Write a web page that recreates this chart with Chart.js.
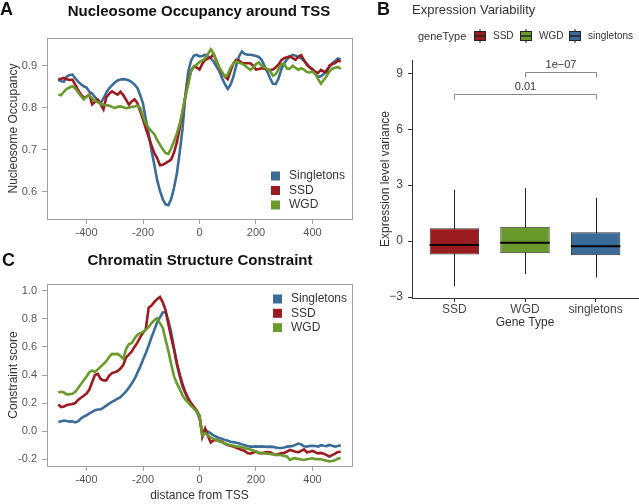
<!DOCTYPE html>
<html>
<head>
<meta charset="utf-8">
<script src="https://cdn.jsdelivr.net/npm/chart.js@4.4.0/dist/chart.umd.min.js"></script>
<style>
body { margin: 0; background: #fff; font-family: "Liberation Sans", Arial, sans-serif; }
#wrap { position: relative; width: 639px; height: 504px; overflow: hidden; }
canvas { position: absolute; }
.t { position: absolute; white-space: nowrap; color: #111; }
</style>
</head>
<body>
<div id="wrap">
  <canvas id="chartA" width="360" height="245" style="left:0;top:0"></canvas>
  <canvas id="chartB" width="279" height="331" style="left:360px;top:0"></canvas>
  <canvas id="chartC" width="360" height="254" style="left:0;top:250px"></canvas>
  <div class="t" style="left:0;top:0;font-size:18px;line-height:18px;font-weight:bold">A</div>
  <div class="t" style="left:199px;top:3px;font-size:15px;line-height:15px;font-weight:bold;transform:translateX(-50%)">Nucleosome Occupancy around TSS</div>
  <div class="t" style="left:377px;top:0;font-size:18px;line-height:18px;font-weight:bold">B</div>
  <div class="t" style="left:412px;top:3px;font-size:13px;line-height:13px;color:#333">Expression Variability</div>
  <div class="t" style="left:418px;top:30px;font-size:11px;line-height:12px;color:#333">geneType</div>
  <div class="t" style="left:2px;top:251px;font-size:18px;line-height:18px;font-weight:bold">C</div>
  <div class="t" style="left:200px;top:252px;font-size:15px;line-height:15px;font-weight:bold;transform:translateX(-50%)">Chromatin Structure Constraint</div>
</div>
<script>
// distance from TSS (bp)
const distance = [-500,-490,-480,-470,-460,-450,-440,-430,-420,-410,-400,-390,-380,-370,-360,-350,-340,-330,-320,-310,
  -300,-290,-280,-270,-260,-250,-240,-230,-220,-210,-200,-190,-180,-170,-160,-150,-140,-130,-120,-110,
  -100,-90,-80,-70,-60,-50,-40,-30,-20,-10,0,10,20,30,40,50,60,70,80,90,
  100,110,120,130,140,150,160,170,180,190,200,210,220,230,240,250,260,270,280,290,
  300,310,320,330,340,350,360,370,380,390,400,410,420,430,440,450,460,470,480,490,500];
const xTicks = [-400, -200, 0, 200, 400];

// panel A: nucleosome occupancy
const occSingletons = [.867,.863,.862,.874,.878,.879,.870,.862,.856,.851,.848,.838,.834,.825,.818,.811,.822,.836,.846,.853,
  .860,.865,.867,.868,.867,.865,.861,.855,.847,.830,.810,.772,.738,.698,.664,.628,.602,.582,.570,.568,
  .583,.610,.644,.695,.750,.830,.885,.912,.924,.926,.922,.923,.926,.922,.918,.910,.898,.887,.870,.856,
  .845,.855,.874,.900,.922,.934,.928,.926,.926,.925,.923,.921,.914,.900,.886,.870,.857,.856,.870,.892,
  .906,.915,.922,.926,.924,.920,.918,.912,.905,.897,.890,.882,.873,.875,.880,.890,.897,.906,.911,.917,.915];
const occSSD = [.868,.869,.871,.868,.866,.867,.855,.842,.832,.824,.826,.831,.808,.814,.819,.808,.796,.825,.833,.839,
  .835,.831,.838,.830,.819,.807,.815,.820,.811,.792,.772,.750,.730,.710,.692,.680,.663,.664,.668,.672,
  .677,.694,.718,.752,.790,.827,.862,.888,.898,.896,.891,.905,.914,.917,.920,.928,.912,.895,.882,.874,
  .868,.887,.905,.914,.912,.907,.906,.906,.906,.900,.891,.892,.894,.893,.891,.890,.891,.896,.903,.913,
  .918,.920,.922,.918,.914,.922,.925,.913,.902,.896,.892,.885,.883,.890,.886,.884,.900,.904,.906,.912,.910];
const occWGD = [.831,.830,.838,.845,.848,.851,.846,.837,.828,.820,.826,.830,.822,.816,.813,.809,.807,.806,.805,.802,
  .799,.802,.803,.801,.799,.800,.802,.803,.805,.800,.780,.762,.752,.744,.737,.723,.712,.701,.692,.690,
  .704,.720,.739,.762,.792,.828,.855,.886,.898,.903,.909,.912,.918,.928,.939,.928,.912,.896,.885,.874,
  .880,.895,.906,.910,.907,.905,.901,.895,.890,.895,.904,.908,.900,.896,.892,.888,.876,.880,.892,.904,
  .904,.893,.893,.900,.895,.890,.894,.891,.885,.884,.886,.880,.868,.857,.866,.875,.886,.893,.895,.897,.892];
const occTicks = [0.6, 0.7, 0.8, 0.9];

// panel C: constraint score
const conSingletons = [.066,.070,.076,.072,.068,.070,.062,.070,.090,.104,.113,.127,.138,.150,.154,.156,.168,.182,.196,.208,
  .220,.232,.242,.262,.284,.310,.340,.372,.415,.458,.508,.557,.610,.668,.720,.775,.810,.845,.848,.785,
  .700,.590,.475,.390,.315,.270,.226,.192,.165,.140,.090,-.005,.008,-.004,-.016,-.030,-.040,-.048,-.055,-.062,
  -.068,-.075,-.078,-.082,-.086,-.094,-.100,-.106,-.110,-.110,-.108,-.110,-.108,-.110,-.112,-.110,-.112,-.116,-.120,-.120,
  -.116,-.110,-.108,-.106,-.098,-.088,-.094,-.108,-.110,-.106,-.104,-.106,-.110,-.100,-.104,-.106,-.098,-.104,-.110,-.106,-.100];
const conSSD = [.190,.172,.175,.186,.190,.193,.200,.222,.238,.252,.268,.296,.350,.400,.408,.372,.362,.362,.395,.414,
  .420,.428,.446,.470,.525,.545,.567,.600,.630,.668,.700,.728,.880,.895,.920,.940,.955,.918,.860,.760,
  .665,.580,.483,.405,.335,.275,.235,.200,.174,.148,.110,-.040,.018,-.035,-.080,-.065,-.062,-.070,-.075,-.090,
  -.098,-.104,-.110,-.118,-.126,-.134,-.140,-.155,-.160,-.152,-.146,-.155,-.158,-.152,-.148,-.150,-.160,-.170,-.162,-.156,
  -.155,-.145,-.134,-.140,-.146,-.150,-.140,-.130,-.150,-.146,-.140,-.150,-.158,-.155,-.160,-.170,-.180,-.170,-.160,-.148,-.146];
const conWGD = [.275,.280,.275,.262,.264,.266,.280,.305,.335,.362,.390,.420,.432,.422,.440,.460,.478,.498,.528,.550,
  .549,.550,.535,.515,.585,.620,.627,.660,.686,.698,.706,.722,.742,.770,.790,.805,.770,.735,.650,.570,
  .475,.390,.340,.300,.255,.225,.205,.180,.162,.140,.110,-.030,-.014,-.030,-.045,-.055,-.062,-.072,-.080,-.088,
  -.095,-.098,-.104,-.108,-.110,-.115,-.120,-.125,-.130,-.138,-.145,-.152,-.155,-.158,-.160,-.162,-.165,-.168,-.170,-.172,
  -.176,-.180,-.205,-.195,-.192,-.198,-.202,-.205,-.200,-.196,-.193,-.200,-.198,-.200,-.205,-.210,-.215,-.212,-.208,-.195,-.192];
const conTicks = [-0.2, 0, 0.2, 0.4, 0.6, 0.8, 1.0];

// panel B: expression variability boxplot
const geneTypes = ['SSD', 'WGD', 'singletons'];
const whiskerLow = [-2.43, -1.77, -1.95];
const q1 = [-0.72, -0.65, -0.76];
const median = [-0.21, -0.09, -0.28];
const q3 = [0.69, 0.77, 0.48];
const whiskerHigh = [2.75, 2.84, 2.32];
const varTicks = [-3, 0, 3, 6, 9];
const comparisons = [
  { from: 'SSD', to: 'singletons', y: 7.89, label: '0.01' },
  { from: 'WGD', to: 'singletons', y: 9.08, label: '1e\u221207' }
];

const BLUE = '#3b6c98', RED = '#9b1c20', GREEN = '#6a9a2c';
const FONT = '"Liberation Sans", Arial, sans-serif';
Chart.defaults.font.family = FONT;

const framePlugin = {
  id: 'frame',
  afterDraw(chart, args, opts) {
    const { ctx, chartArea: a } = chart;
    ctx.save();
    ctx.strokeStyle = '#a0a0a0';
    ctx.lineWidth = 1;
    ctx.strokeRect(Math.round(a.left) + 0.5, Math.round(a.top) + 0.5, a.right - a.left, a.bottom - a.top);
    ctx.font = '12px ' + FONT;
    ctx.textBaseline = 'middle';
    chart.data.datasets.forEach((ds, i) => {
      const y = opts.y + i * opts.gap;
      ctx.fillStyle = ds.borderColor;
      ctx.fillRect(opts.x, y - 4.5, 9, 9);
      ctx.fillStyle = '#333';
      ctx.fillText(ds.label, opts.x + 18, y);
    });
    ctx.restore();
  }
};

function lineChart(id, s1, s2, s3, yMin, yMax, yTicks, yTitle, xTitle, pad, xH, legend) {
  const pts = arr => distance.map((d, i) => ({ x: d, y: arr[i] }));
  const ds = (label, arr, color, order) => ({
    label: label, data: pts(arr), borderColor: color, backgroundColor: color,
    borderWidth: 2.6, pointRadius: 0, tension: 0, order: order
  });
  new Chart(document.getElementById(id), {
    type: 'line',
    data: { datasets: [ds('Singletons', s1, BLUE, 3), ds('SSD', s2, RED, 2), ds('WGD', s3, GREEN, 1)] },
    options: {
      responsive: false, animation: false, devicePixelRatio: 1,
      layout: { padding: { top: pad, right: 8, left: 0, bottom: 0 } },
      plugins: { legend: { display: false }, tooltip: { enabled: false }, frame: legend },
      scales: {
        x: {
          type: 'linear', min: -540, max: 540,
          afterBuildTicks: s => { s.ticks = xTicks.map(v => ({ value: v })); },
          afterFit: s => { s.height = xH; },
          grid: { drawOnChartArea: false, tickLength: 5, color: '#a0a0a0' },
          border: { display: false },
          ticks: { color: '#555', font: { size: 11 }, padding: 2, maxRotation: 0 },
          title: { display: !!xTitle, text: xTitle, color: '#333', font: { size: 12 }, padding: { top: 0, bottom: 1 } }
        },
        y: {
          min: yMin, max: yMax,
          afterBuildTicks: s => { s.ticks = yTicks.map(v => ({ value: v })); },
          afterFit: s => { s.width = 47; },
          grid: { drawOnChartArea: false, tickLength: 5, color: '#a0a0a0' },
          border: { display: false },
          ticks: { color: '#555', font: { size: 11 }, padding: 5, callback: v => v.toFixed(1) },
          title: { display: true, text: yTitle, color: '#333', font: { size: 12 }, padding: { top: 6, bottom: 0 } }
        }
      }
    },
    plugins: [framePlugin]
  });
}

lineChart('chartA', occSingletons, occSSD, occWGD, 0.535, 0.966, occTicks,
  'Nucleosome Occupancy', '', 38, 26, { x: 271, y: 176, gap: 14.5 });
lineChart('chartC', conSingletons, conSSD, conWGD, -0.248, 1.048, conTicks,
  'Constraint score', 'distance from TSS', 34, 38, { x: 273, y: 49, gap: 14.3 });

// boxplot extras: whiskers, medians, brackets, legend
const boxPlugin = {
  id: 'boxExtras',
  beforeDatasetsDraw(chart) {
    const { ctx, scales: { x, y } } = chart;
    ctx.save();
    ctx.strokeStyle = '#222';
    ctx.lineWidth = 1;
    geneTypes.forEach((g, i) => {
      const px = Math.round(x.getPixelForValue(i + 1)) + 0.5;
      ctx.beginPath();
      ctx.moveTo(px, y.getPixelForValue(whiskerLow[i]));
      ctx.lineTo(px, y.getPixelForValue(whiskerHigh[i]));
      ctx.stroke();
    });
    ctx.restore();
  },
  afterDatasetsDraw(chart) {
    const { ctx, scales: { x, y } } = chart;
    const meta = chart.getDatasetMeta(0);
    ctx.save();
    ctx.strokeStyle = '#000';
    ctx.lineWidth = 2;
    meta.data.forEach((bar, i) => {
      const py = y.getPixelForValue(median[i]);
      ctx.beginPath();
      ctx.moveTo(bar.x - bar.width / 2, py);
      ctx.lineTo(bar.x + bar.width / 2, py);
      ctx.stroke();
    });
    // significance brackets
    ctx.strokeStyle = '#8a8a8a';
    ctx.lineWidth = 1;
    ctx.fillStyle = '#333';
    ctx.font = '11px ' + FONT;
    ctx.textAlign = 'center';
    ctx.textBaseline = 'bottom';
    comparisons.forEach(c => {
      const x1 = Math.round(x.getPixelForValue(geneTypes.indexOf(c.from) + 1)) + 0.5;
      const x2 = Math.round(x.getPixelForValue(geneTypes.indexOf(c.to) + 1)) + 0.5;
      const yTop = Math.round(y.getPixelForValue(c.y)) + 0.5;
      const yEnd = y.getPixelForValue(c.y - 0.3);
      ctx.beginPath();
      ctx.moveTo(x1, yEnd); ctx.lineTo(x1, yTop); ctx.lineTo(x2, yTop); ctx.lineTo(x2, yEnd);
      ctx.stroke();
      ctx.fillText(c.label, (x1 + x2) / 2, yTop - 2);
    });
    // legend keys
    const colors = chart.data.datasets[0].backgroundColor;
    const keyX = [114, 160, 209];
    ctx.textAlign = 'left';
    ctx.textBaseline = 'middle';
    ctx.font = '10px ' + FONT;
    geneTypes.forEach((g, i) => {
      const kx = keyX[i];
      ctx.strokeStyle = '#222';
      ctx.lineWidth = 1;
      ctx.beginPath();
      ctx.moveTo(kx + 6, 29); ctx.lineTo(kx + 6, 43);
      ctx.stroke();
      ctx.fillStyle = colors[i];
      ctx.fillRect(kx, 31.5, 12, 9);
      ctx.strokeRect(kx + 0.5, 31.5, 11, 9);
      ctx.lineWidth = 1.5;
      ctx.beginPath();
      ctx.moveTo(kx, 36); ctx.lineTo(kx + 12, 36);
      ctx.stroke();
      ctx.fillStyle = '#333';
      ctx.fillText(g, kx + 19, 36.5);
    });
    ctx.restore();
  }
};

new Chart(document.getElementById('chartB'), {
  type: 'bar',
  data: {
    datasets: [{
      label: 'geneType',
      data: geneTypes.map((g, i) => ({ x: i + 1, y: [q1[i], q3[i]] })),
      backgroundColor: [RED, GREEN, BLUE],
      borderColor: '#333',
      borderWidth: 1,
      borderSkipped: false,
      barPercentage: 0.7,
      categoryPercentage: 1
    }]
  },
  options: {
    responsive: false, animation: false, devicePixelRatio: 1,
    layout: { padding: { top: 60, right: 1, left: 0, bottom: 0 } },
    plugins: { legend: { display: false }, tooltip: { enabled: false } },
    scales: {
      x: {
        type: 'linear', min: 0.4, max: 3.6, offset: false,
        afterBuildTicks: s => { s.ticks = geneTypes.map((g, i) => ({ value: i + 1 })); },
        afterFit: s => { s.height = 33; },
        grid: { drawOnChartArea: false, offset: false, tickLength: 4, color: '#333' },
        border: { display: true, color: '#333', width: 1 },
        ticks: { color: '#444', font: { size: 12 }, padding: 0, callback: v => geneTypes[v - 1] },
        title: { display: true, text: 'Gene Type', color: '#333', font: { size: 12 }, padding: { top: 0, bottom: 1 } }
      },
      y: {
        min: -3.05, max: 9.71,
        afterBuildTicks: s => { s.ticks = varTicks.map(v => ({ value: v })); },
        afterFit: s => { s.width = 52; },
        grid: { drawOnChartArea: false, tickLength: 4, color: '#333' },
        border: { display: true, color: '#333', width: 1 },
        ticks: { color: '#444', font: { size: 12 }, padding: 5, callback: v => String(v).replace('-', '\u2212') },
        title: { display: true, text: 'Expression level variance', color: '#333', font: { size: 12 }, padding: { top: 18, bottom: 0 } }
      }
    }
  },
  plugins: [boxPlugin]
});
</script>
</body>
</html>
